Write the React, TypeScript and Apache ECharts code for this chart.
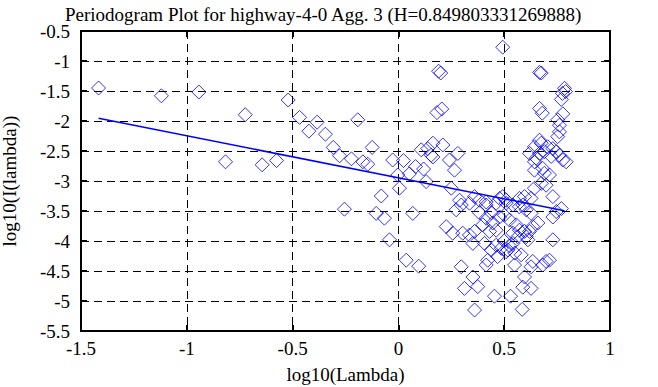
import React, { useEffect, useRef } from "react";
import * as echarts from "echarts";

const titleText = "Periodogram Plot for highway-4-0 Agg. 3 (H=0.849803331269888)";
const xName = "log10(Lambda)";
const yName = "log10(I(lambda))";

// log10(lambda) values
const logLambda: number[] = [
  -1.417, -1.12, -0.943, -0.724, -0.817, -0.644, -0.576, -0.521, -0.467, -0.423,
  -0.384, -0.345, -0.308, -0.278, -0.222, -0.192, -0.168, -0.145, -0.124, -0.255,
  -0.081, -0.105, -0.066, -0.042, -0.027, 0.024, -0.003, 0.005, 0.052, 0.081,
  0.119, 0.108, 0.068, 0.037, 0.096, 0.131,
  0.139, 0.163, 0.21, 0.155, 0.163, 0.281, 0.241, 0.265, 0.25, 0.289,
  0.273, 0.297, 0.226, 0.257,
  0.493, 0.19, 0.2, 0.182, 0.205, 0.667, 0.675,
  0.785, 0.775, 0.79, 0.77, 0.667, 0.68, 0.777, 0.753, 0.761, 0.761, 0.667, 0.753,
  0.675, 0.706, 0.73, 0.746, 0.761, 0.777, 0.793, 0.722, 0.69, 0.667, 0.651, 0.643,
  0.643, 0.682, 0.69, 0.714, 0.643, 0.675, 0.698, 0.73, 0.596, 0.627, 0.62, 0.643,
  0.77, 0.746, 0.73, 0.588, 0.604, 0.627, 0.659, 0.635, 0.62, 0.596, 0.604, 0.612,
  0.73, 0.714, 0.698, 0.682, 0.635, 0.58, 0.596, 0.588, 0.627, 0.585,
  0.304, 0.336, 0.36, 0.399, 0.431, 0.446, 0.462, 0.352, 0.407, 0.439, 0.462, 0.486,
  0.517, 0.541, 0.564, 0.422, 0.469, 0.509, 0.297, 0.415, 0.549, 0.627, 0.352, 0.375,
  0.312, 0.454, 0.53, 0.36,
  0.36, 0.383, 0.415, 0.478, 0.493, 0.509, 0.572, 0.336, 0.415, 0.462, 0.509, 0.541,
  0.572, 0.5, 0.525, 0.55, 0.525, 0.557, 0.572, 0.541, 0.501, 0.383, 0.415, 0.439, 0.478,
];

// log10(I(lambda)) values
const logPeriodogram: number[] = [
  -1.45, -1.58, -1.517, -1.895, -2.68, -2.73, -2.66, -1.65, -1.94, -2.17,
  -2.02, -2.22, -2.44, -2.58, -2.63, -1.98, -2.68, -2.72, -2.44, -3.47,
  -3.25, -3.54, -3.62, -3.98, -2.65, -2.66, -2.9, -3.12, -2.88, -2.76,
  -2.8, -2.48, -3.54, -4.32, -4.42, -3.01,
  -2.46, -2.37, -2.4, -2.57, -2.6, -2.54, -2.65, -2.82, -3.12, -3.32,
  -3.48, -3.4, -3.76, -3.87,
  -0.77, -1.17, -1.2, -1.86, -1.8, -1.19, -1.2,
  -1.455, -1.54, -1.51, -1.64, -1.79, -1.87, -1.88, -1.98, -2.07, -2.18, -2.32, -2.26,
  -2.37, -2.43, -2.46, -2.51, -2.57, -2.65, -2.68, -2.59, -2.51, -2.54, -2.62, -2.68,
  -2.82, -2.79, -2.87, -2.9, -3.12, -3.04, -3.07, -3.26, -3.26, -3.29, -2.54, -2.43,
  -3.46, -3.51, -3.6, -3.4, -3.48, -3.54, -3.7, -3.76, -3.84, -3.84, -3.93, -3.98,
  -3.98, -4.32, -4.34, -4.4, -4.34, -4.23, -4.6, -4.77, -4.79, -5.14,
  -3.87, -3.9, -3.84, -3.73, -3.84, -3.7, -3.82, -4.04, -4.04, -4.15, -4.07, -4.12,
  -4.15, -4.04, -3.93, -4.32, -4.26, -4.18, -4.43, -4.4, -4.4, -4.43, -4.6, -4.76,
  -4.79, -4.92, -4.92, -5.15,
  -3.26, -3.32, -3.35, -3.29, -3.26, -3.32, -3.29, -3.37, -3.4, -3.37, -3.37, -3.4,
  -3.43, -4.0, -4.08, -4.2, -3.65, -3.73, -3.82, -3.87, -3.57, -3.53, -3.62, -3.53, -3.6,
];

// fitted regression line endpoints (slope = 1 - 2H)
const fitX: number[] = [-1.417, 0.785];
const fitY: number[] = [-1.955, -3.495];

const FONT = "Liberation Serif";

export default function App() {
  const ref = useRef<HTMLDivElement>(null);
  useEffect(() => {
    if (!ref.current) return;
    const chart = echarts.init(ref.current, undefined, { renderer: "svg" });
    const points = logLambda.map((x, i) => [x, logPeriodogram[i]]);
    const line = fitX.map((x, i) => [x, fitY[i]]);
    const dash = [8, 5];
    const axisLine = { show: true, onZero: false, lineStyle: { color: "#000", width: 2 } };
    const axisTick = { show: true, inside: true, length: 6, lineStyle: { color: "#000", width: 2 } };
    chart.setOption({
      animation: false,
      backgroundColor: "#ffffff",
      textStyle: { fontFamily: FONT },
      title: {
        text: titleText,
        left: 60,
        top: 0,
        textStyle: { fontFamily: FONT, fontSize: 19, fontWeight: "normal", color: "#000" },
      },
      grid: {
        left: 81,
        top: 31,
        width: 529,
        height: 300,
        containLabel: false,
        outerBoundsMode: "none",
        show: true,
        borderColor: "#000",
        borderWidth: 2,
        backgroundColor: "transparent",
      },
      xAxis: [
        {
          type: "value",
          min: -1.5,
          max: 1,
          interval: 0.5,
          position: "bottom",
          name: xName,
          nameLocation: "middle",
          nameGap: 34,
          nameTextStyle: { fontFamily: FONT, fontSize: 19, color: "#000" },
          axisLine,
          axisTick,
          axisLabel: { fontFamily: FONT, fontSize: 19, color: "#000", margin: 8 },
          splitLine: { show: true, lineStyle: { color: "#000", type: dash, width: 1 } },
        },
        {
          type: "value",
          min: -1.5,
          max: 1,
          interval: 0.5,
          position: "top",
          axisLine,
          axisTick,
          axisLabel: { show: false },
          splitLine: { show: false },
        },
      ],
      yAxis: [
        {
          type: "value",
          min: -5.5,
          max: -0.5,
          interval: 0.5,
          position: "left",
          name: yName,
          nameLocation: "middle",
          nameGap: 62,
          nameTextStyle: { fontFamily: FONT, fontSize: 19, color: "#000" },
          axisLine,
          axisTick,
          axisLabel: { fontFamily: FONT, fontSize: 19, color: "#000", margin: 11 },
          splitLine: { show: true, lineStyle: { color: "#000", type: dash, width: 1 } },
        },
        {
          type: "value",
          min: -5.5,
          max: -0.5,
          interval: 0.5,
          position: "right",
          axisLine,
          axisTick,
          axisLabel: { show: false },
          splitLine: { show: false },
        },
      ],
      series: [
        {
          type: "scatter",
          xAxisIndex: 0,
          yAxisIndex: 0,
          data: points,
          symbol: "diamond",
          symbolSize: [14, 14],
          itemStyle: { color: "rgba(0,0,0,0)", borderColor: "#0000ff", borderWidth: 1 },
          emphasis: { disabled: true },
          z: 3,
        },
        {
          type: "line",
          xAxisIndex: 0,
          yAxisIndex: 0,
          data: line,
          showSymbol: false,
          symbol: "none",
          lineStyle: { color: "#0000ff", width: 1.5 },
          z: 4,
        },
      ],
    });
    return () => chart.dispose();
  }, []);
  return (
    <div
      ref={ref}
      style={{ position: "fixed", left: 0, top: 0, width: 658, height: 387, background: "#fff" }}
    />
  );
}
